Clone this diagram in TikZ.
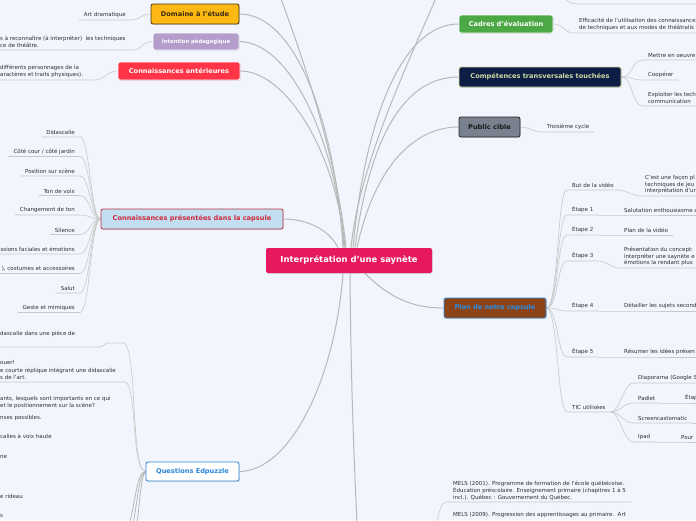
\documentclass[tikz,border=0pt]{standalone}
\usepackage{fontspec}
\setmainfont{DejaVu Sans}
\usetikzlibrary{shadows,calc}
\pgfdeclarelayer{back}
\pgfdeclarelayer{links}
\pgfsetlayers{back,links,main}
\definecolor{bg}{HTML}{F2F5FD}
\definecolor{connc}{HTML}{B8B8B8}
\definecolor{ulc}{HTML}{C8C8C8}
\definecolor{leaftxt}{HTML}{2E2E2E}
\definecolor{cpink}{HTML}{E6195F}
\definecolor{gold}{HTML}{FDB813}
\definecolor{goldb}{HTML}{4B3512}
\definecolor{goldt}{HTML}{3A2A10}
\definecolor{lav}{HTML}{B49CCB}
\definecolor{redn}{HTML}{FF3446}
\definecolor{lblue}{HTML}{C3DEF1}
\definecolor{dred}{HTML}{B4343F}
\definecolor{redt}{HTML}{CB2A3A}
\definecolor{qblue}{HTML}{2A85DA}
\definecolor{grn}{HTML}{4CA845}
\definecolor{navy}{HTML}{0E1D45}
\definecolor{lime}{HTML}{CADDA2}
\definecolor{gry}{HTML}{78818D}
\definecolor{brn}{HTML}{8C4417}
\definecolor{pblue}{HTML}{2B8CE2}
\begin{document}
\begin{tikzpicture}[x=1pt,y=-1pt,
  box/.style={rounded corners=2pt, line width=0.8pt, inner sep=0pt, align=center,
    font=\bfseries\fontsize{6.6}{7.8}\selectfont,
    drop shadow={opacity=0.22,shadow xshift=0.8pt,shadow yshift=-0.8pt}},
  leaf/.style={font=\fontsize{5.5}{7}\selectfont, text=leaftxt, inner xsep=5pt, inner ysep=2pt, align=left},
  ul/.style={draw=ulc, line width=0.6pt},
  conn/.style={draw=connc, line width=1pt}]
\begin{pgfonlayer}{back}
\fill[bg] (0,0) rectangle (696,520);
\end{pgfonlayer}
\useasboundingbox (0,0) rectangle (696,520);
\clip (0,0) rectangle (696,520);
\coordinate (R) at (700,0);
\coordinate (L) at (-4,0);

% ---------- main nodes ----------
\node[box, fill=cpink, text=white, minimum width=166pt, minimum height=25pt, font=\bfseries\fontsize{8.4}{9.5}\selectfont] (C) at (349,260.5) {Interprétation d'une saynète};
\node[box, fill=gold, draw=goldb, text=goldt, minimum width=88pt, minimum height=20pt] (DE) at (195,14) {Domaine à l'étude};
\node[box, fill=lav, draw=white, text=white, minimum width=86pt, minimum height=17pt, font=\bfseries\fontsize{5.3}{6}\selectfont] (IP) at (196,41.5) {Intention pédagogique};
\node[box, fill=redn, draw=white, text=white, minimum width=122pt, minimum height=18pt] (CA) at (179,71) {Connaissances antérieures};
\node[box, fill=lblue, draw=dred, text=redt, minimum width=182pt, minimum height=20pt] (CP) at (192,219) {Connaissances présentées dans la capsule};
\node[box, fill=white, draw=qblue, text=qblue, minimum width=93pt, minimum height=19pt] (QE) at (192.5,471.5) {Questions Edpuzzle};
\node[box, fill=grn, draw=white, text=white, minimum width=94pt, minimum height=18pt] (CE) at (506,24) {Cadres d'évaluation};
\node[box, fill=navy, draw=lime, text=lime, minimum width=162pt, minimum height=20pt] (CT) at (540,77) {Compétences transversales touchées};
\node[box, fill=gry, draw=black!85, text=black!90, minimum width=61pt, minimum height=20pt] (PB) at (489.5,127) {Public cible};
\node[box, fill=brn, draw=pblue, text=pblue, minimum width=102pt, minimum height=20pt] (PC) at (495,308) {Plan de notre capsule};

% ---------- left leaves ----------
\node[leaf, anchor=south east] (artd) at (131,20) {Art dramatique};
\node[leaf, anchor=south west, inner xsep=1pt] (intc) at (-1,50) {s à reconnaître (à interpréter)\ \ les techniques\\ce de théâtre.};
\node[leaf, anchor=south west, inner xsep=1pt] (antc) at (-1,80) {différents personnages de la\\aractères et traits physiques).};
\foreach \t [count=\i from 0] in {Didascalie, Côté cour / côté jardin, Position sur scène, Ton de voix, Changement de ton, Silence, ssions faciales et émotions, {), costumes et accessoires}, Salut, Geste et mimiques}
  \node[leaf, anchor=south east] (cp\i) at (80,{137+19.5*\i}) {\t};

\node[leaf, anchor=west, inner xsep=1pt] (q1) at (-1,334) {dascalie dans une pièce de};
\coordinate (q1a) at (-4,347);
\coordinate (q1b) at (100,347);
\coordinate (q1c) at (108,343);
\coordinate (q1d) at (123,343);
\node[leaf, anchor=south west, font=\fontsize{5.5}{7.5}\selectfont] (q2) at (-5,382) {ouer!\\e courte réplique intégrant une didascalie\\s de l'art.};
\node[leaf, anchor=north west, inner xsep=1pt, inner ysep=0pt] (q3) at (-1,396.4) {ants, lesquels sont importants en ce qui\\et le positionnement sur la scène?\\[5pt]nses possibles.\\[12pt]calies à voix haute\\[13pt]ne\\[33pt]e rideau\\[12pt]s};
\coordinate (qb1) at (124,545);
\coordinate (qb2) at (129,545);
\coordinate (qb3) at (134,545);

% ---------- right leaves ----------
\coordinate (tp0) at (562,-8);
\coordinate (tp1) at (580,4);
\node[leaf, anchor=south west] (eff) at (574,33) {Efficacité de l'utilisation des connaissance\\de techniques et aux modes de théâtralis};
\node[leaf, anchor=south west] (mettre) at (643,60) {Mettre en oeuvre};
\node[leaf, anchor=south west] (coop) at (643,80) {Coopérer};
\node[leaf, anchor=south west] (expl) at (643,106) {Exploiter les tech\\communication};
\node[leaf, anchor=south west] (troi) at (542,132) {Troisième cycle};

\node[leaf, anchor=south west] (but) at (567,190) {But de la vidéo};
\node[leaf, anchor=south west, font=\fontsize{5.5}{6.6}\selectfont] (buts) at (640,196) {C'est une façon pl\\techniques de jeu\\interprétation d'ur};
\node[leaf, anchor=south west] (e1) at (567,215) {Étape 1};
\node[leaf, anchor=south west] (e1s) at (619,215) {Salutation enthousiasme a};
\node[leaf, anchor=south west] (e2) at (567,235) {Étape 2};
\node[leaf, anchor=south west] (e2s) at (619,235) {Plan de la vidéo};
\node[leaf, anchor=south west] (e3) at (567,261) {Étape 3};
\node[leaf, anchor=south west, font=\fontsize{5.5}{6.6}\selectfont] (e3s) at (619,268) {Présentation du concept:\\interpréter une saynète e\\émotions la rendant plus};
\node[leaf, anchor=south west] (e4) at (567,311) {Étape 4};
\node[leaf, anchor=south west] (e4s) at (619,311) {Détailler les sujets second};
\node[leaf, anchor=south west] (e5) at (567,357) {Étape 5};
\node[leaf, anchor=south west] (e5s) at (619,357) {Résumer les idées présen};
\node[leaf, anchor=south west] (tic) at (567,412) {TIC utilisées};
\node[leaf, anchor=south west] (diap) at (633,383) {Diaporama (Google S};
\node[leaf, anchor=south west] (padl) at (633,403) {Padlet};
\node[leaf, anchor=south west] (padls) at (680,403) {Étap};
\node[leaf, anchor=south west] (scr) at (633,423) {Screencastomatic};
\node[leaf, anchor=south west] (ipad) at (633,442) {Ipad};
\node[leaf, anchor=south west] (ipads) at (676,442) {Pour};

\node[leaf, anchor=south west, font=\fontsize{5.5}{6.8}\selectfont] (ref1) at (448,502) {MELS (2001). Programme de formation de l'école québécoise.\\Éducation préscolaire. Enseignement primaire (chapitres 1 à 5\\incl.). Québec : Gouvernement du Québec.};
\node[leaf, anchor=west] (ref2) at (448,515) {MELS (2009). Progression des apprentissages au primaire.\ \ Art};
\coordinate (rb) at (432,545);

\coordinate (ctl) at (270,-30);
\coordinate (ctr) at (448,-30);
\coordinate (cdown) at (358,545);

% ---------- connectors ----------
\begin{pgfonlayer}{links}
% from the centre
\draw[conn] ($(C.north)+(-6,0)$) .. controls (336,130) and (298,14) .. (DE.east);
\draw[conn] ($(C.north)+(-5,0)$) .. controls (336,140) and (290,42) .. (IP.east);
\draw[conn] ($(C.north)+(-4,0)$) .. controls (336,150) and (285,71) .. (CA.east);
\draw[conn] ($(C.north)+(-3,0)$) .. controls (337,160) and (305,60) .. (ctl);
\draw[conn] ($(C.north)+(2,0)$) .. controls (360,160) and (410,60) .. (ctr);
\draw[conn] ($(C.north)+(4,0)$) .. controls (366,110) and (405,24) .. (CE.west);
\draw[conn] ($(C.north)+(6,0)$) .. controls (370,135) and (405,77) .. (CT.west);
\draw[conn] ($(C.north)+(8,0)$) .. controls (375,165) and (415,127) .. (PB.west);
\draw[conn] ($(C.north)+(-11,0)$) .. controls (328,228) and (305,219) .. (CP.east);
\draw[conn] ($(C.south)+(-6,0)$) .. controls (335,380) and (290,471) .. (QE.east);
\draw[conn] ($(C.south)+(1,0)$) .. controls (351,400) and (355,480) .. (cdown);
\draw[conn] ($(C.south)+(16,0)$) .. controls (392,300) and (415,308) .. (PC.west);

% left leaves
\draw[ul] (artd.south west) -- (artd.south east) .. controls +(10,0) and +(-10,0) .. (DE.west);
\draw[ul] (intc.south west) -- ($(intc.south east)+(5,0)$) .. controls +(12,0) and +(-12,0) .. (IP.west);
\draw[ul] (antc.south west) -- ($(antc.south east)+(10,0)$) .. controls +(11,0) and +(-11,0) .. (CA.west);
\foreach \i in {0,...,5,8,9}
  \draw[ul] (cp\i.south west) -- (cp\i.south east) .. controls +(10,0) and +(-10,0) .. (CP.west);
\foreach \i in {6,7}
  \draw[ul] (cp\i.south east -| L) -- (cp\i.south east) .. controls +(10,0) and +(-10,0) .. (CP.west);

\draw[ul] (q1a) -- (q1b) .. controls (104,347) and (104,343) .. (q1c) -- (q1d) .. controls (138,343) and (130,471) .. (QE.west);
\draw[ul] (q2.south west) -- ($(q2.south east)+(4,0)$) .. controls +(12,0) and (131,471) .. (QE.west);
\draw[conn, line width=0.8pt] (QE.west) .. controls (136,472) and (137,500) .. (qb1);
\draw[conn, line width=0.8pt] (QE.west) .. controls (138,474) and (138,505) .. (qb2);
\draw[conn, line width=0.8pt] (QE.west) .. controls (140,476) and (140,510) .. (qb3);

% right leaves
\draw[ul] (tp0) .. controls (566,2) and (570,4) .. (tp1) -- (tp1 -| R);
\draw[ul] (CE.east) .. controls +(10,0) and +(-10,0) .. (eff.south west) -- (eff.south west -| R);
\draw[ul] (CT.east) .. controls +(12,0) and +(-12,0) .. (mettre.south west) -- (mettre.south west -| R);
\draw[ul] (CT.east) .. controls +(12,0) and +(-12,0) .. (coop.south west) -- (coop.south east);
\draw[ul] (CT.east) .. controls +(12,0) and +(-12,0) .. (expl.south west) -- (expl.south west -| R);
\draw[ul] (PB.east) .. controls +(10,0) and +(-10,0) .. (troi.south west) -- (troi.south east);

\foreach \n in {but,e1,e2,e3,e4,e5,tic}
  \draw[ul] (PC.east) .. controls +(12,0) and +(-10,0) .. (\n.south west) -- (\n.south east);
\draw[ul] (but.south east) .. controls +(6,0) and +(-6,0) .. (buts.south west) -- (buts.south west -| R);
\draw[ul] (e1.south east) -- (e1s.south west) -- (e1s.south west -| R);
\draw[ul] (e2.south east) -- (e2s.south west) -- (e2s.south east);
\draw[ul] (e3.south east) .. controls +(6,0) and +(-6,0) .. (e3s.south west) -- (e3s.south west -| R);
\draw[ul] (e4.south east) -- (e4s.south west) -- (e4s.south west -| R);
\draw[ul] (e5.south east) -- (e5s.south west) -- (e5s.south west -| R);
\foreach \n in {diap,padl,scr,ipad}
  \draw[ul] (tic.south east) .. controls +(9,0) and +(-9,0) .. (\n.south west) -- (\n.south east);
\draw[ul] (diap.south east) -- (diap.south east -| R);
\draw[ul] (scr.south east) -- (scr.south east -| R);
\draw[ul] (padl.south east) -- (padls.south west) -- (padls.south west -| R);
\draw[ul] (ipad.south east) -- (ipads.south west) -- (ipads.south west -| R);

\draw[ul] (rb) .. controls (440,508) and (440,502) .. (ref1.south west) -- (ref1.south east);
\end{pgfonlayer}
\end{tikzpicture}
\end{document}
